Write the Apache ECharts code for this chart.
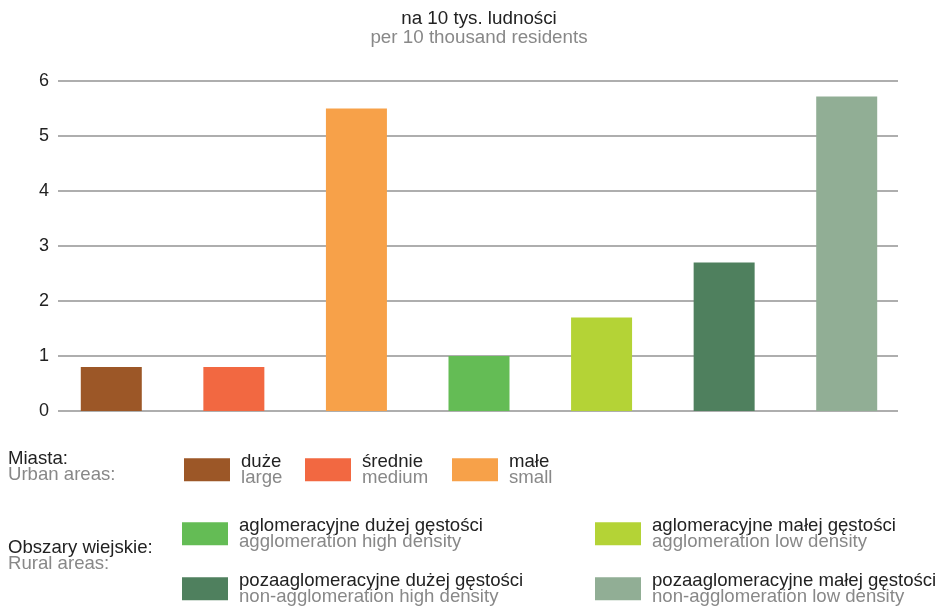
<!DOCTYPE html>
<html>
<head>
<meta charset="utf-8">
<script src="https://cdn.jsdelivr.net/npm/echarts@6/dist/echarts.min.js"></script>
<style>
html,body{margin:0;padding:0;background:#fff;}
#chart{width:942px;height:606px;}
</style>
</head>
<body>
<div id="chart"></div>
<script>
// ---- data ----
var categoriesPL = ['duże', 'średnie', 'małe', 'aglomeracyjne dużej gęstości', 'aglomeracyjne małej gęstości', 'pozaaglomeracyjne dużej gęstości', 'pozaaglomeracyjne małej gęstości'];
var categoriesEN = ['large', 'medium', 'small', 'agglomeration high density', 'agglomeration low density', 'non-agglomeration high density', 'non-agglomeration low density'];
var values = [0.8, 0.8, 5.5, 1.0, 1.7, 2.7, 5.72];
var colors = ['#9C5727', '#F26841', '#F7A149', '#64BC55', '#B4D336', '#4F805E', '#91AE95'];
var yTicks = [0, 1, 2, 3, 4, 5, 6];
var titlePL = 'na 10 tys. ludności';
var titleEN = 'per 10 thousand residents';
var groupPL = ['Miasta:', 'Obszary wiejskie:'];
var groupEN = ['Urban areas:', 'Rural areas:'];

// legend placement (left, top of legend box)
var legendPos = [[184, 452], [305, 452], [452, 452], [182, 516], [595, 516], [182, 571], [595, 571]];

var FONT = 'Liberation Sans, Arial, sans-serif';
var LFS = 18.6;
var chart = echarts.init(document.getElementById('chart'));

var series = values.map(function (v, i) {
  var d = values.map(function (_, j) { return j === i ? v : '-'; });
  return {
    name: categoriesPL[i],
    type: 'bar',
    xAxisIndex: 1,
    yAxisIndex: 1,
    stack: 'all',
    barWidth: 61,
    data: d,
    itemStyle: { color: colors[i] },
    emphasis: { disabled: true }
  };
});

var legends = categoriesPL.map(function (name, i) {
  return {
    data: [name],
    left: legendPos[i][0],
    top: legendPos[i][1],
    padding: 0,
    icon: 'rect',
    itemWidth: 46,
    itemHeight: 23,
    selectedMode: false,
    formatter: function (n) {
      var k = categoriesPL.indexOf(n);
      return '{a|' + n + '}\n{b|' + categoriesEN[k] + '}';
    },
    textStyle: {
      fontFamily: FONT,
      padding: [0, 0, 0, 6],
      rich: {
        a: { fontFamily: FONT, fontSize: LFS, color: '#222', lineHeight: 16.5 },
        b: { fontFamily: FONT, fontSize: LFS, color: '#888', lineHeight: 16.5 }
      }
    }
  };
});

var option = {
  animation: false,
  backgroundColor: '#fff',
  title: {
    text: titlePL,
    subtext: titleEN,
    left: 474,
    top: 5,
    textAlign: 'center',
    itemGap: 0,
    textStyle: { fontFamily: FONT, fontSize: 18.8, fontWeight: 'normal', color: '#222', lineHeight: 18 },
    subtextStyle: { fontFamily: FONT, fontSize: 18.8, color: '#888', lineHeight: 18 }
  },
  legend: legends,
  grid: [
    { left: 58, right: 44, top: 81, bottom: 195 },
    { left: 50, right: 34, top: 81, bottom: 195 }
  ],
  xAxis: [
    { type: 'category', gridIndex: 0, data: categoriesPL, show: false },
    { type: 'category', gridIndex: 1, data: categoriesPL, show: false }
  ],
  yAxis: [
    {
      type: 'value', gridIndex: 0, min: yTicks[0], max: yTicks[yTicks.length - 1], interval: 1,
      axisLine: { show: false }, axisTick: { show: false },
      axisLabel: { fontFamily: FONT, fontSize: 18, color: '#222', margin: 9 },
      splitLine: { lineStyle: { color: '#939393', width: 1.5 } }
    },
    {
      type: 'value', gridIndex: 1, min: yTicks[0], max: yTicks[yTicks.length - 1], interval: 1,
      show: false, splitLine: { show: false }
    }
  ],
  graphic: [
    { type: 'text', left: 8, top: 449, style: { text: groupPL[0] + '\n{g|' + groupEN[0] + '}', fontFamily: FONT, fontSize: LFS, fill: '#222', lineHeight: 16, rich: { g: { fontFamily: FONT, fontSize: LFS, fill: '#888', lineHeight: 16 } } } },
    { type: 'text', left: 8, top: 538, style: { text: groupPL[1] + '\n{g|' + groupEN[1] + '}', fontFamily: FONT, fontSize: LFS, fill: '#222', lineHeight: 16, rich: { g: { fontFamily: FONT, fontSize: LFS, fill: '#888', lineHeight: 16 } } } }
  ],
  series: series
};
chart.setOption(option);
</script>
</body>
</html>
